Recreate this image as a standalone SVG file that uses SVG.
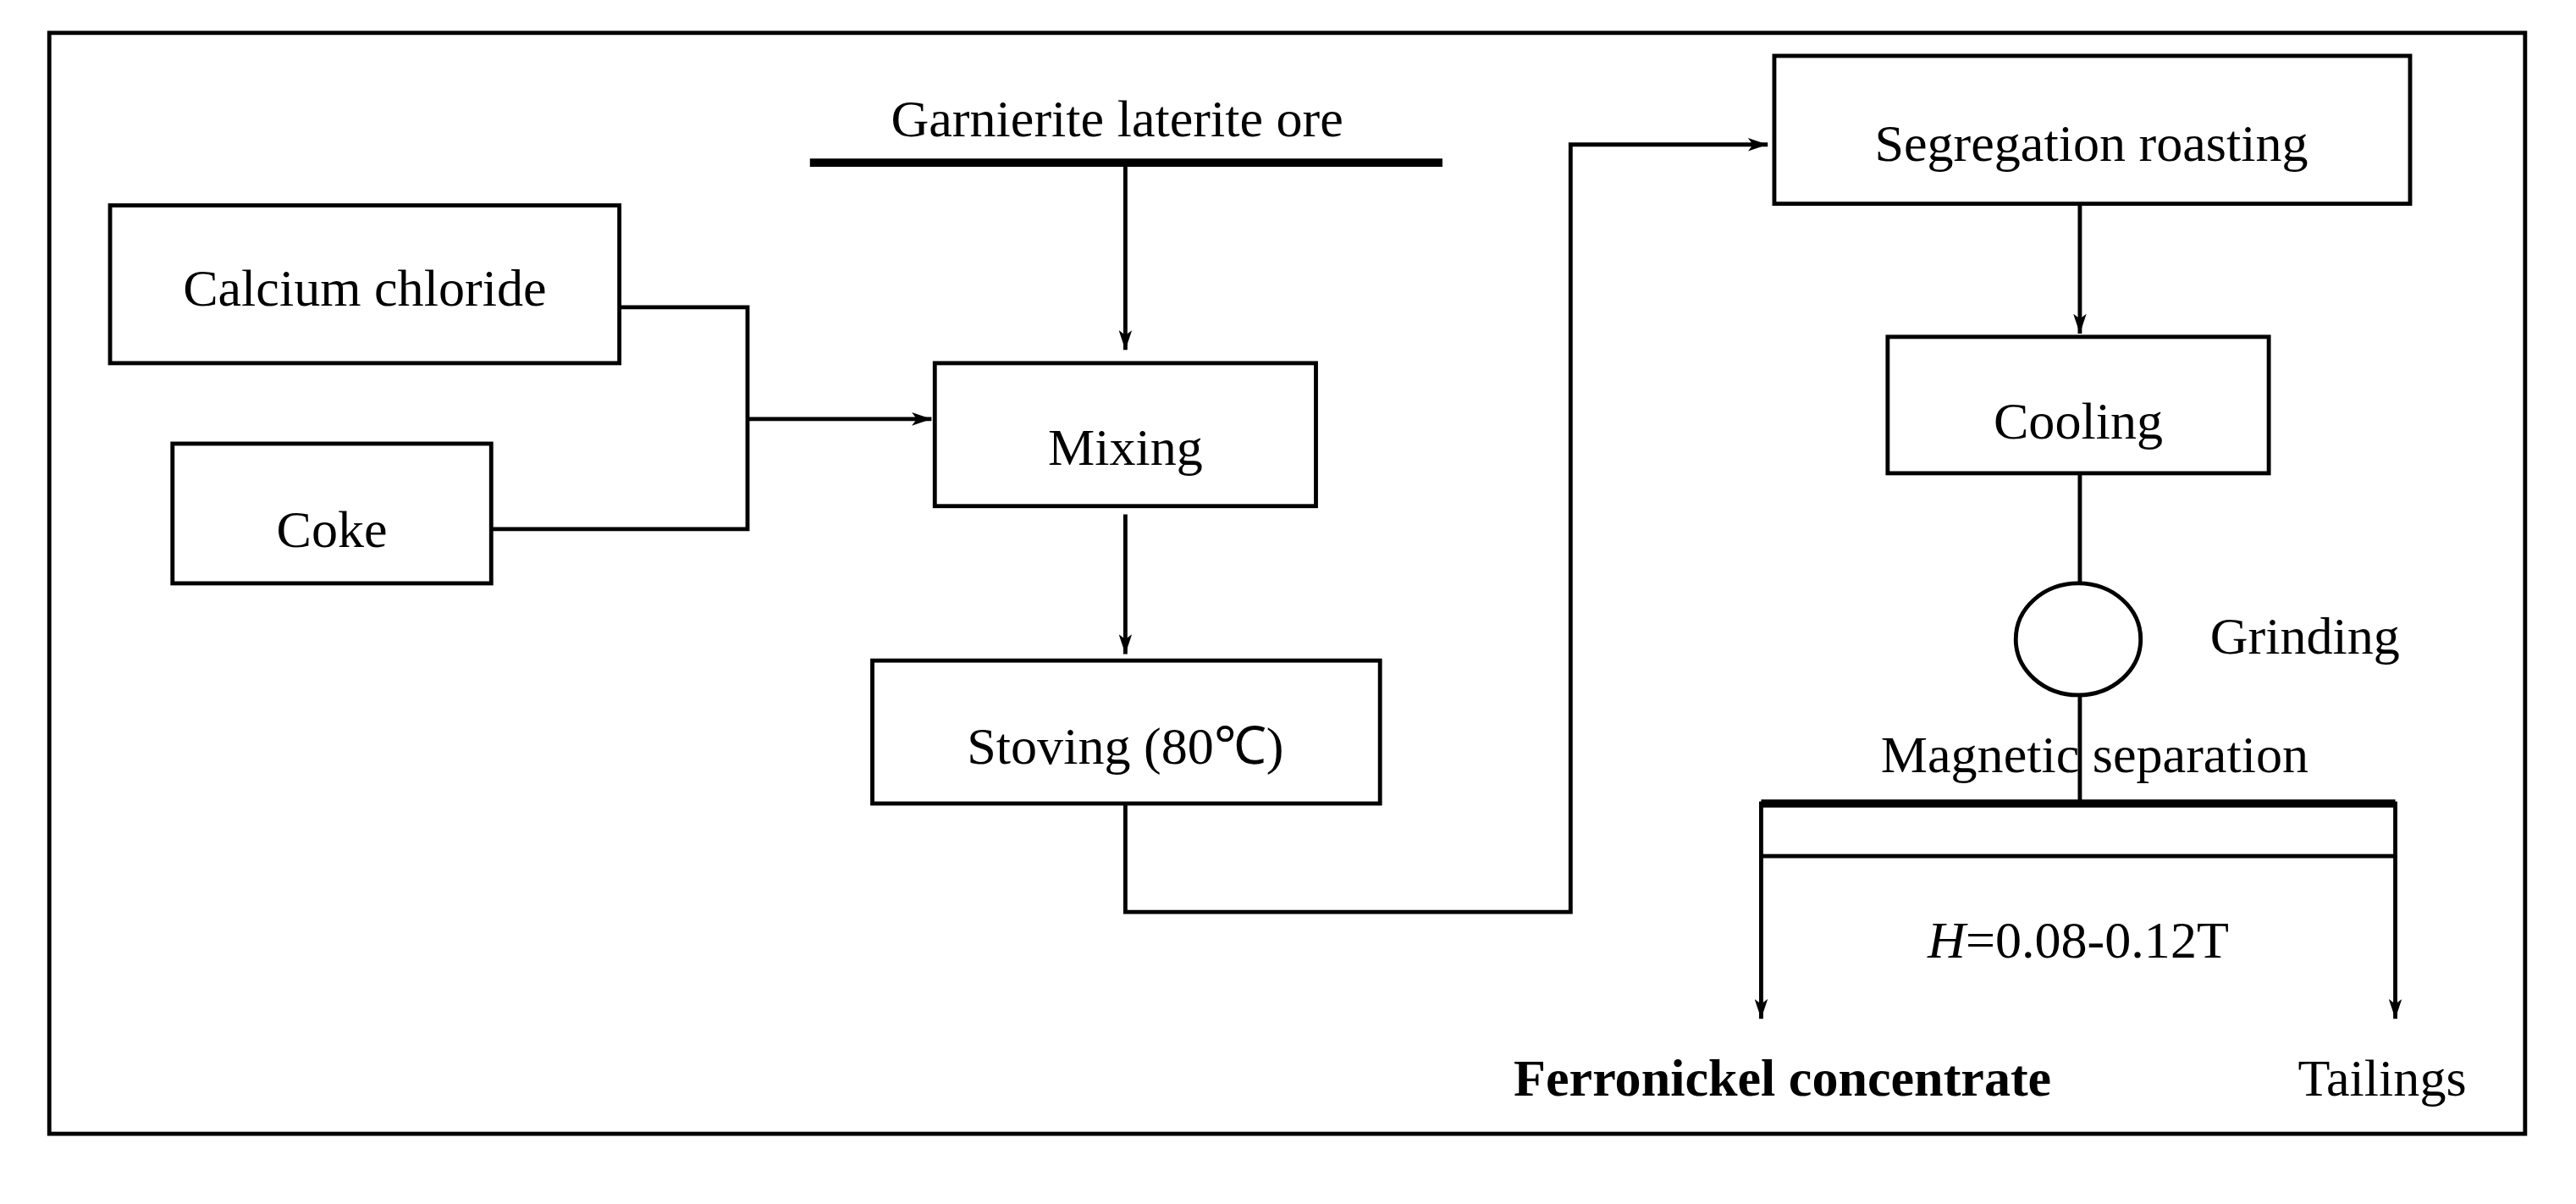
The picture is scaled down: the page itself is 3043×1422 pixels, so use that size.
<svg xmlns="http://www.w3.org/2000/svg" width="3043" height="1422" viewBox="0 0 3043 1422">
<style>
.b{fill:#fff;stroke:#000;stroke-width:2.5}
.l{fill:none;stroke:#000;stroke-width:2.5}
.t{font-family:"Liberation Serif",serif;font-size:32px;text-anchor:middle;fill:#000}
</style>
<defs>
<marker id="a" markerWidth="12" markerHeight="8" refX="12" refY="4" orient="auto" markerUnits="userSpaceOnUse">
<path d="M0,0 L12,4 L0,8 L3,4 Z" fill="#000"/>
</marker>
</defs>
<rect width="3043" height="1422" fill="#fff"/>
<g transform="scale(1.9407)">
<rect x="30" y="20" width="1507" height="670" class="l" stroke-width="3"/>
<g id="ore"><line x1="493" y1="99" x2="878" y2="99" stroke="#000" stroke-width="5"/><text class="t" x="680" y="83">Garnierite laterite ore</text></g>
<g id="calcium"><rect class="b" x="67" y="125" width="310" height="96"/><text class="t" x="222" y="186">Calcium chloride</text></g>
<g id="coke"><rect class="b" x="105" y="270" width="194" height="85"/><text class="t" x="202" y="333">Coke</text></g>
<g id="mixing"><rect class="b" x="569" y="221" width="232" height="87"/><text class="t" x="685" y="283">Mixing</text></g>
<g id="stoving"><rect class="b" x="531" y="402" width="309" height="87"/><text class="t" x="685" y="465">Stoving (80℃)</text></g>
<g id="segregation"><rect class="b" x="1080" y="34" width="387" height="90"/><text class="t" x="1273" y="98">Segregation roasting</text></g>
<g id="cooling"><rect class="b" x="1149" y="205" width="232" height="83"/><text class="t" x="1265" y="267">Cooling</text></g>
<g id="grinding"><ellipse class="b" cx="1265" cy="389" rx="38" ry="34"/><text class="t" x="1403" y="398">Grinding</text></g>
<g id="magnetic"><line x1="1072" y1="489" x2="1458" y2="489" stroke="#000" stroke-width="5"/><rect class="l" x="1072" y="489" width="386" height="32"/><text class="t" x="1275" y="470">Magnetic separation</text><text class="t" x="1265" y="583"><tspan font-style="italic">H</tspan>=0.08-0.12T</text></g>
<g id="ferronickel"><text class="t" x="1085" y="667" font-weight="bold">Ferronickel concentrate</text></g>
<g id="tailings"><text class="t" x="1450" y="667">Tailings</text></g>
<g id="connectors">
<line class="l" x1="685" y1="99" x2="685" y2="213" marker-end="url(#a)"/>
<polyline class="l" points="377,187 455,187 455,322 299,322"/>
<line class="l" x1="455" y1="255" x2="567" y2="255" marker-end="url(#a)"/>
<line class="l" x1="685" y1="313" x2="685" y2="398" marker-end="url(#a)"/>
<polyline class="l" points="685,489 685,555 956,555 956,88 1076,88" marker-end="url(#a)"/>
<line class="l" x1="1266" y1="124" x2="1266" y2="203" marker-end="url(#a)"/>
<line class="l" x1="1266" y1="288" x2="1266" y2="355"/>
<line class="l" x1="1266" y1="423" x2="1266" y2="487"/>
<line class="l" x1="1072" y1="521" x2="1072" y2="620" marker-end="url(#a)"/>
<line class="l" x1="1458" y1="521" x2="1458" y2="620" marker-end="url(#a)"/>
</g>
</g>
</svg>
